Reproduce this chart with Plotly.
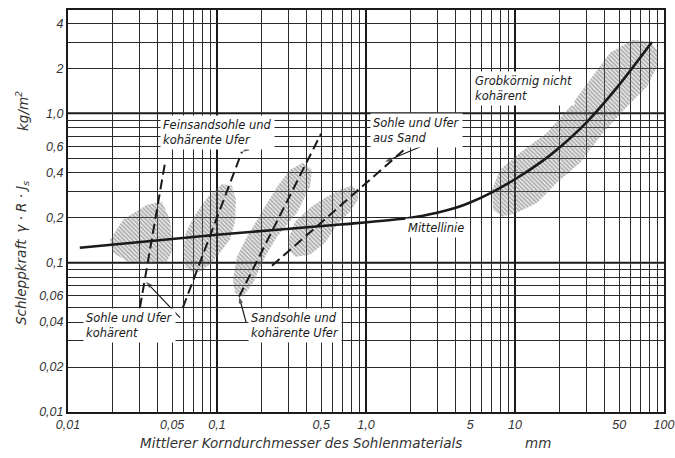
import numpy as np
import plotly.graph_objects as go

# ---------------- data ----------------
# Mittellinie (solid curve)
mittel_x = [0.012, 0.1, 0.67, 2.0, 3.0, 4.0, 5.0, 7.0, 10, 15, 20, 30, 50, 83]
mittel_y = [0.126, 0.154, 0.18, 0.2, 0.216, 0.233, 0.253, 0.296, 0.362, 0.473, 0.593, 0.863, 1.55, 3.0]

# dashed lines
d1_x = [0.0304, 0.0448]; d1_y = [0.05, 0.467]    # Sohle und Ufer kohärent
d2_x = [0.059, 0.147];   d2_y = [0.05, 0.553]    # Feinsandsohle und kohärente Ufer
d3_x = [0.1407, 0.499];  d3_y = [0.0592, 0.73]   # Sandsohle und kohärente Ufer
d4_x = [0.234, 1.97];    d4_y = [0.0954, 0.617]  # Sohle und Ufer aus Sand

# hatched scatter regions (outline vertices)
b1_x = [0.0191, 0.0234, 0.0339, 0.0427, 0.0484, 0.0499, 0.0499, 0.0462, 0.0339, 0.0249, 0.0200]
b1_y = [0.142, 0.194, 0.244, 0.256, 0.194, 0.142, 0.119, 0.102, 0.099, 0.102, 0.117]
b2_x = [0.061, 0.0591, 0.0619, 0.0712, 0.0871, 0.108, 0.126, 0.134, 0.132, 0.122, 0.106, 0.0925, 0.0769, 0.0669]
b2_y = [0.094, 0.122, 0.159, 0.209, 0.276, 0.337, 0.327, 0.264, 0.188, 0.1425, 0.1186, 0.100, 0.0871, 0.0871]
b3_x = [0.378, 0.434, 0.421, 0.344, 0.253, 0.21, 0.175, 0.149, 0.132, 0.128, 0.136, 0.159, 0.204, 0.253, 0.309]
b3_y = [0.467, 0.419, 0.323, 0.216, 0.149, 0.1096, 0.0734, 0.0592, 0.063, 0.0769, 0.1096, 0.149, 0.226, 0.323, 0.419]
b4_x = [0.300, 0.334, 0.421, 0.531, 0.669, 0.805, 0.883, 0.883, 0.781, 0.639, 0.531, 0.421, 0.334, 0.300]
b4_y = [0.142, 0.188, 0.233, 0.272, 0.308, 0.327, 0.308, 0.264, 0.219, 0.18, 0.136, 0.113, 0.1096, 0.122]
b5_x = [80.5, 61.9, 43.4, 31.9, 23.4, 16.4, 10.8, 7.93, 7.01, 7.12, 8.18, 10.3, 14.1, 19.1, 27.3, 39.0, 56.4, 76.9, 89.8, 89.8]
b5_y = [3.02, 3.11, 2.55, 1.68, 1.107, 0.741, 0.545, 0.419, 0.308, 0.226, 0.203, 0.216, 0.252, 0.343, 0.467, 0.741, 1.107, 1.51, 2.05, 2.67]

# leader lines (tail -> head)
lead1_x = [0.0565, 0.0334]; lead1_y = [0.0428, 0.0745]
lead2_x = [0.204, 0.148];   lead2_y = [0.656, 0.553]
lead3_x = [0.157, 0.1407];  lead3_y = [0.0397, 0.0592]
lead4_x = [3.0, 1.34];      lead4_y = [0.665, 0.474]

# axis ticks
x_tickvals = [0.01, 0.05, 0.1, 0.5, 1, 5, 10, 50, 100]
x_ticktext = ["0,01", "0,05", "0,1", "0,5", "1,0", "5", "10", "50", "100"]
y_tickvals = [0.01, 0.02, 0.04, 0.06, 0.1, 0.2, 0.4, 0.6, 1, 2, 4]
y_ticktext = ["0,01", "0,02", "0,04", "0,06", "0,1", "0,2", "0,4", "0,6", "1,0", "2", "4"]
grid_mults = [2, 3, 4, 5, 6, 7, 8, 9]
x_decades = [0.1, 1, 10]
y_decades = [0.1, 1]

FONT = "DejaVu Sans"
TICKFONT = "Liberation Sans"
INK = "#1a1a1a"

fig = go.Figure()

hatch = dict(shape="\\", size=3, solidity=0.7, fgcolor="#666666")
for bx, by in [(b1_x, b1_y), (b2_x, b2_y), (b3_x, b3_y), (b4_x, b4_y), (b5_x, b5_y)]:
    fig.add_trace(go.Scatter(x=bx + bx[:1], y=by + by[:1], mode="lines", fill="toself",
                             line=dict(width=0, color="rgba(0,0,0,0)"),
                             fillcolor="rgba(0,0,0,0)", fillpattern=hatch,
                             hoverinfo="skip", showlegend=False))

for dx, dy in [(d1_x, d1_y), (d2_x, d2_y), (d3_x, d3_y), (d4_x, d4_y)]:
    fig.add_trace(go.Scatter(x=dx, y=dy, mode="lines",
                             line=dict(color=INK, width=2, dash="10px,5px"),
                             showlegend=False))

for lx, ly in [(lead1_x, lead1_y), (lead2_x, lead2_y), (lead3_x, lead3_y), (lead4_x, lead4_y)]:
    fig.add_trace(go.Scatter(x=lx, y=ly, mode="lines+markers",
                             line=dict(color=INK, width=1.2),
                             marker=dict(symbol=["circle", "arrow"], size=[0, 7], angleref="previous",
                                         color=INK, line=dict(width=0)),
                             showlegend=False))

fig.add_trace(go.Scatter(x=mittel_x, y=mittel_y, mode="lines",
                         line=dict(color=INK, width=2.6, shape="spline", smoothing=0.8),
                         showlegend=False))

def minor_vals(lo, hi):
    vals = []
    for d in range(lo, hi):
        for m in grid_mults:
            vals.append(m * 10.0 ** d)
    return vals

tickfont = dict(family=TICKFONT, size=12.5, color="#333", style="italic")
common = dict(type="log", showgrid=False, ticks="", tickfont=tickfont, zeroline=False,
              showline=True, linecolor=INK, linewidth=2, mirror=True, automargin=False)
fig.update_xaxes(range=[-2, 2], tickvals=x_tickvals, ticktext=x_ticktext,
                 minor=dict(tickvals=minor_vals(-2, 2), showgrid=True,
                            gridcolor="#2a2a2a", gridwidth=1, ticks=""), **common)
fig.update_yaxes(range=[-2, 0.692], tickvals=y_tickvals, ticktext=y_ticktext,
                 minor=dict(tickvals=[v for v in minor_vals(-2, 1) if v < 4.9], showgrid=True,
                            gridcolor="#2a2a2a", gridwidth=1, ticks=""), **common)

for xv in x_decades:
    fig.add_shape(type="line", xref="x", yref="paper", x0=xv, x1=xv,
                  y0=0, y1=1, line=dict(color=INK, width=2), layer="below")
for yv in y_decades:
    fig.add_shape(type="line", xref="paper", yref="y", x0=0, x1=1, y0=yv, y1=yv,
                  line=dict(color=INK, width=2), layer="below")

lab_font = dict(family=FONT, size=11.5, color=INK, style="italic")
labels = [
    ("Feinsandsohle und<br>kohärente Ufer", 0.0414, 0.741),
    ("Sohle und Ufer<br>aus Sand", 1.06, 0.763),
    ("Grobkörnig nicht<br>kohärent", 5.14, 1.46),
    ("Mittellinie", 1.83, 0.171),
    ("Sohle und Ufer<br>kohärent", 0.0126, 0.0378),
    ("Sandsohle und<br>kohärente Ufer", 0.161, 0.0378),
]
for txt, lx, ly in labels:
    fig.add_annotation(text=txt, x=np.log10(lx), y=np.log10(ly), xref="x", yref="y",
                       xanchor="left", yanchor="middle", align="left", showarrow=False,
                       font=lab_font, bgcolor="white", borderpad=2)

title_font = dict(family=FONT, size=13.5, color="#333", style="italic")
fig.add_annotation(text="Mittlerer Korndurchmesser des Sohlenmaterials",
                   xref="paper", yref="paper", x=(138 - 68) / 596, y=-(443 - 412) / 402,
                   xanchor="left", yanchor="middle", showarrow=False, font=title_font)
fig.add_annotation(text="mm",
                   xref="paper", yref="paper", x=(523 - 68) / 596, y=-(443 - 412) / 402,
                   xanchor="left", yanchor="middle", showarrow=False, font=title_font)
fig.add_annotation(text="Schleppkraft\u2002γ · R · J<sub>s</sub>",
                   xref="paper", yref="paper", x=-(68 - 22) / 596, y=(412 - 327) / 402,
                   xanchor="center", yanchor="bottom", textangle=-90, showarrow=False,
                   font=title_font)
fig.add_annotation(text="kg/m<sup>2</sup>",
                   xref="paper", yref="paper", x=-(68 - 22) / 596, y=(412 - 111) / 402,
                   xanchor="center", yanchor="middle", textangle=-90, showarrow=False,
                   font=title_font)

fig.update_layout(width=675, height=458, margin=dict(l=68, r=11, t=10, b=46),
                  plot_bgcolor="white", paper_bgcolor="white", showlegend=False)

fig.write_html("out.html", config={"displayModeBar": False},
               post_script="document.body.style.margin='0';document.body.style.padding='0';")
